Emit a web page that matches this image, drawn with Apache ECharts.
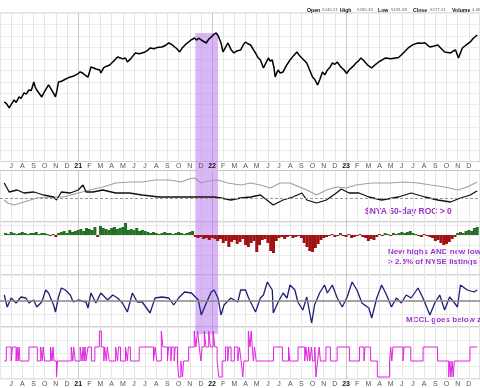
<!DOCTYPE html>
<html><head><meta charset="utf-8">
<script src="https://cdn.jsdelivr.net/npm/echarts@6/dist/echarts.min.js"></script>
<style>html,body{margin:0;padding:0;background:#fff}#c{width:480px;height:388px}</style>
</head><body><div id="c"></div>
<script>
// x unit: months since 1 Jul 2020
const monthLetters = ['J','F','M','A','M','J','J','A','S','O','N','D'];
const firstYear = 21;

const priceT = [-0.62,-0.4,-0.18,0,0.26,0.45,0.71,0.9,1.15,1.35,1.59,1.8,2.03,2.15,2.29,2.5,2.74,2.95,3.15,3.35,3.55,3.75,3.97,4.1,4.24,4.5,4.8,5.05,5.3,5.55,5.8,6.0,6.18,6.4,6.6,6.88,7.15,7.4,7.6,7.94,8.03,8.3,8.55,8.83,9.1,9.3,9.53,9.8,10.0,10.24,10.41,10.7,11.12,11.5,12.0,12.2,12.44,12.8,13.1,13.5,13.8,14.12,14.4,14.65,14.85,15.09,15.3,15.6,15.89,16.1,16.42,16.6,16.8,17.03,17.2,17.48,17.7,17.9,18.1,18.36,18.55,18.8,18.98,19.2,19.42,19.7,19.95,20.2,20.56,20.8,21.0,21.2,21.45,21.7,21.89,22.1,22.33,22.6,22.8,23.04,23.2,23.39,23.55,23.65,23.8,23.92,24.1,24.36,24.6,24.98,25.3,25.6,25.8,26.04,26.2,26.48,26.7,27.0,27.2,27.45,27.65,27.89,28.1,28.33,28.55,28.77,29.0,29.21,29.5,29.83,30.05,30.27,30.6,30.89,31.1,31.33,31.55,31.77,32.0,32.3,32.6,32.92,33.2,33.54,34.0,34.42,34.7,34.95,35.3,35.57,36.0,36.45,36.8,37.07,37.3,37.51,37.9,38.22,38.5,38.83,39.1,39.36,39.6,39.81,40.07,40.25,40.42,40.8,41.13,41.4,41.75];
const priceV = [3310,3270,3179,3250,3353,3300,3419,3390,3506,3480,3571,3560,3746,3640,3571,3500,3419,3520,3600,3680,3600,3520,3419,3560,3746,3760,3800,3830,3855,3870,3900,3930,3964,3940,3900,3850,4073,4050,4030,4007,3942,4060,4090,4116,4180,4230,4291,4270,4250,4269,4182,4250,4378,4360,4400,4430,4487,4470,4500,4509,4540,4596,4560,4509,4470,4400,4480,4560,4618,4660,4705,4660,4700,4661,4620,4596,4680,4720,4770,4814,4750,4596,4400,4500,4596,4450,4378,4420,4443,4560,4618,4580,4552,4450,4378,4280,4225,4051,4150,4269,4200,4225,4050,3855,3950,4007,3940,3964,4080,4225,4320,4400,4330,4269,4240,4160,4030,3855,3800,3680,3800,3964,3900,4007,4060,4160,4130,4182,4080,4007,3930,4007,4080,4160,4200,4269,4220,4160,4100,4051,4120,4182,4220,4269,4250,4269,4280,4334,4420,4487,4560,4596,4590,4600,4550,4509,4530,4552,4480,4400,4390,4378,4420,4443,4269,4380,4487,4560,4618,4700,4770];

const rocT = [-0.62,-0.18,0.53,1.15,2.03,2.91,3.8,4.06,4.5,5.3,6.0,6.44,6.71,7.33,8.21,9.36,10.59,11.74,13.24,14.65,15.89,17.03,18.18,18.8,19.68,20.56,21.45,22.33,23.48,24.36,25.24,26.04,26.48,27.36,28.24,29.13,29.57,30.27,31.16,32.04,33.19,34.69,35.83,37.07,38.22,39.36,40.25,41.13,41.57,41.75];
const rocBlack = [15,6,8,5,6,3,1,-2,6,5,8,13,6,6,8,5,5,3,1,1,1,1,1,0,-2,0,1,3,-7,-2,1,5,-2,-5,-2,5,9,5,5,1,-2,1,5,1,-2,-4,0,3,6,7];
const grayT = [-0.62,-0.3,0.26,1.15,2.29,3.8,4.68,6.0,7.06,8.21,9.36,10.59,11.74,12.89,14.12,15.27,15.89,16.42,17.03,17.65,18.53,19.42,20.56,21.45,22.33,23.21,24.1,24.98,26.48,27.36,28.24,29.13,30.01,30.89,32.3,33.8,35.3,36.45,37.6,38.83,39.98,40.86,41.75];
const grayV = [-2,-5,-7,-4,0,1,1,5,8,11,15,16,16,18,18,16,19,20,15,17,18,15,13,15,13,10,15,15,8,3,8,11,10,13,15,15,16,15,13,11,8,11,16];

const hlStart = -0.5, hlStep = 0.25;
const hlV = [2,1,3,2,1,2,3,2,1,2,2,3,1,2,2,1, -1,1,-2,2, 3,4,2,5,3,4, 5,6,4,7,6,5,8,-2,9, 7,6,5,7,8,6, 7,8,12,5, 6,5,7,4,5,4, 3,2,3,2,1,2,3,2,2,1,2,3,2,1,2,3,4, -2,-3,-2,-4,-3,-5,-3,-4,-6, -4,-8,-6,-12,-7, -5,-9,-7,-4, -10,-12,-8,-6, -17,-10,-5,-4, -8,-16,-18,-6, -3,-2,-4,-2,-1,-3,-2,-1,-3, -8,-12,-16,-17,-13,-9,-5, -3,-2,-1,1,-2,-1,2,-1,-2,1,-3,-2,-1,1,-2,-3, -6,-4,-5,-2, 1,-1,2,1,-1,2,1,2,3,2,3,4,2,1,-1,-2,1,-1,-2,-3, -6,-5,-8,-10,-9,-7,-4,-2, 2,3,2,4,5,4,7,8];

const mcclT = [-0.62,-0.35,0,0.44,0.88,1.32,1.59,2.03,2.29,2.74,3.09,3.35,3.8,3.97,4.24,4.5,4.85,5.3,5.56,6.0,6.7,6.88,7.15,7.59,8.03,8.65,9.09,9.53,9.97,10.41,10.86,11.3,11.74,12.44,12.89,13.5,14.12,14.56,15.0,15.53,16.15,16.77,17.03,17.48,17.92,18.18,18.53,18.8,19.07,19.68,20.3,20.56,21.0,21.27,21.89,22.33,22.6,22.95,23.39,23.48,23.92,24.36,24.71,24.98,25.42,25.68,26.13,26.48,26.92,27.18,27.63,28.07,28.33,28.77,29.21,29.66,30.1,30.54,30.98,31.42,32.04,32.3,32.75,33.19,33.63,34.07,34.51,34.95,35.39,35.83,36.45,36.89,37.51,37.95,38.39,38.83,39.28,39.72,39.98,40.25,40.86,41.48,41.75];
const mcclV = [6,-6,3,-2,4,3,-2,1,-6,-1,11,8,-4,-11,4,13,11,6,-1,1,-1,-7,8,-2,8,1,6,3,-2,-11,8,-1,-1,-12,3,4,3,-4,3,9,8,1,-14,-2,9,11,3,-14,-4,3,-1,11,11,3,-11,3,6,19,11,-12,-1,8,3,16,11,-1,-9,4,-22,-4,8,16,8,16,3,-6,4,19,11,-2,-7,-17,3,16,6,-6,3,-2,6,3,13,3,-14,-2,6,-9,4,-2,-6,16,11,9,11];

const magT = [-0.62,-0.44,0.0,0.13,0.44,0.53,0.62,0.71,0.79,1.59,2.34,2.65,2.78,2.87,3.0,3.53,3.66,3.75,3.84,4.06,4.15,5.38,5.52,5.6,5.74,6.18,6.35,6.44,6.53,6.62,6.71,6.88,7.19,7.5,7.9,8.08,8.3,8.38,8.52,8.61,8.78,9.36,9.53,9.62,9.8,10.24,10.41,10.5,10.68,11.47,12.75,12.9,13.05,13.45,13.6,14.0,14.1,14.3,14.4,14.6,14.7,14.9,15.0,15.2,15.35,15.45,15.9,16.4,16.55,16.7,16.85,17.0,17.1,17.3,17.45,17.7,17.85,18.1,18.25,18.45,18.6,18.9,19.2,19.4,19.5,19.7,20.0,20.3,20.45,20.6,20.75,20.85,21.25,21.4,21.5,21.6,21.7,21.8,21.95,23.5,24.3,24.85,24.95,25.7,26.3,26.4,26.55,26.65,26.75,26.9,27.0,27.2,27.3,27.45,27.6,27.7,28.2,28.6,29.2,30.3,31.2,31.6,31.7,32.2,32.8,33.9,34.0,34.1,34.2,35.1,35.2,35.8,36.9,38.2,39.2,39.3,39.4,39.5,39.6,39.7,41.1,41.75];
const magV = [18,32,18,32,18,32,18,32,18,32, 18,32,18,32,18,32,18,32,18,2, 18,32,18,32,18,32,18,32,18,32, 18,32,18,32,48,32,18,32,18,32, 18,32,18,32,18,32,18,32,18,32, 18,32,18,48,32,18,32,18,32,18, 32,18,2,18,2,18,32,48,32,48, 32,18,32,48,32,48,32,48,32,18, 2,18,32,18,32,18,32,18,32,18, 2,18,48,32,48,32,18,32,18,32, 18,32,18,32,18,32,18,32,18,32, 18,32,2,18,32,18,32,18,32,18, 32,18,32,18,2,18,32,18,32,18, 32,18,32,18,2,18,2,18,2,18, 32,32];

const bandFrom = 16.5, bandTo = 18.53;

function zip(t, v){ const n = Math.min(t.length, v.length); const out=[]; for(let i=0;i<n;i++) out.push([t[i], v[i]]); return out; }
const hlData = hlV.map((v,i)=>[hlStart + i*hlStep, v]);

const vCols = ['#e6e6e6','#e6e6e6','#e6e6e6','#e6e6e6','#e6e6e6','#e6e6e6','#e6e6e6','#c8c8c8','#e6e6e6','#e6e6e6','#e6e6e6','#e6e6e6'];
const grids = [
  {top:13, height:149},
  {top:162, height:60},
  {top:222, height:53},
  {top:275, height:52},
  {top:327, height:52}
];
const labelFmt = function(v){
  const idx = ((v + 6) % 12 + 12) % 12;
  if (idx === 0) return '{y|' + (firstYear + Math.floor((v - 6) / 12)) + '}';
  return monthLetters[idx];
};
const labelStyle = (inside, margin) => ({show:true, inside:inside, margin:margin, fontSize:7, color:'#555', fontFamily:'Arial',
    showMinLabel:false, showMaxLabel:false, formatter:labelFmt,
    rich:{y:{fontSize:7, fontWeight:'bold', color:'#111', fontFamily:'Arial'}}});
const xAxes = grids.map((g,i)=>({
  type:'value', gridIndex:i, min:-1, max:42, interval:1,
  position:'bottom',
  axisLine:{show:false}, axisTick:{show:false},
  splitLine:{show:true, lineStyle:{color:vCols, width:1}},
  axisLabel: i===4 ? labelStyle(false, 2) : {show:false}
}));
// label-only axis for the upper date strip
xAxes.push({type:'value', gridIndex:1, min:-1, max:42, interval:1, position:'top', z:20,
  axisLine:{show:false}, axisTick:{show:false}, splitLine:{show:false}, axisLabel:labelStyle(true, 1)});

const yDefs = [
  {min:2000, max:5250, interval:250, split:true},
  {min:-24, max:36, interval:12, split:false},
  {min:-40, max:13, interval:10, split:true},
  {min:-26, max:26, interval:13, split:true},
  {min:0, max:52, interval:13, split:true}
];
const yAxes = yDefs.map((d,i)=>({
  type:'value', gridIndex:i, min:d.min, max:d.max, interval:d.interval, position:'right',
  axisLine:{show:false}, axisTick:{show:false}, axisLabel:{show:false},
  splitLine:{show:d.split, lineStyle:{color:'#ececec', width:1}}
}));
const bandStyle = {color:'rgba(180,110,235,0.5)', borderWidth:0};
function band(yFrom, yTo){
  const a = {xAxis:bandFrom}, b = {xAxis:bandTo};
  if (yFrom !== undefined){ a.yAxis = yFrom; b.yAxis = yTo; }
  return {silent:true, itemStyle:bandStyle, data:[[a,b]]};
}
const purple = '#9a32cd';
const hdrB = {fontFamily:'Arial', fontWeight:'bold', fontSize:5.2, fill:'#111'};
const hdrV = {fontFamily:'Arial', fontSize:4.4, fill:'#666'};
function hdr(x, txt, st){ return {type:'text', left:x, top:8, style:Object.assign({text:txt}, st)}; }
const option = {
  animation:false,
  backgroundColor:'#ffffff',
  grid: grids.map(g=>({left:-4.33, width:487.2, top:g.top, height:g.height, show:true, borderColor:'#c4c4c4', borderWidth:1, backgroundColor:'transparent'})),
  xAxis:xAxes, yAxis:yAxes,
  series:[
    {type:'line', xAxisIndex:0, yAxisIndex:0, data:zip(priceT, priceV), symbol:'none',
     lineStyle:{color:'#000', width:1.5}, markArea: band(4814, 2000), z:3},
    {type:'line', xAxisIndex:1, yAxisIndex:1, data:zip(grayT, grayV), symbol:'none',
     lineStyle:{color:'#a0a0a0', width:1.2}, z:3},
    {type:'line', xAxisIndex:1, yAxisIndex:1, data:zip(rocT, rocBlack), symbol:'none',
     lineStyle:{color:'#111', width:1.3}, z:3,
     markArea:{silent:true, data:[
       [{xAxis:-1, yAxis:28, itemStyle:{color:'#ffffff', borderWidth:0}}, {xAxis:42, yAxis:36}],
       [{xAxis:bandFrom, itemStyle:bandStyle}, {xAxis:bandTo}]
     ]},
     markLine:{silent:true, symbol:'none', label:{show:false}, data:[
       {yAxis:28, lineStyle:{color:'#c4c4c4', type:'solid', width:1}},
       {yAxis:0, lineStyle:{color:'#999', type:[3,2], width:1}}]}},
    {type:'bar', xAxisIndex:2, yAxisIndex:2, data:hlData, barWidth:3,
     itemStyle:{color:(p)=> p.value[1] >= 0 ? '#226e22' : '#a01212'}, markArea: band(), z:3},
    {type:'line', xAxisIndex:3, yAxisIndex:3, data:zip(mcclT, mcclV), symbol:'none',
     lineStyle:{color:'#1e1e78', width:1.3}, z:3, markArea: band(),
     markLine:{silent:true, symbol:'none', label:{show:false}, data:[{yAxis:0, lineStyle:{color:'#8a8a8a', type:'solid', width:1.5}}]}},
    {type:'line', xAxisIndex:4, yAxisIndex:4, data:zip(magT, magV), symbol:'none', step:'end',
     lineStyle:{color:'#e022e0', width:1}, z:3, markArea: band(45, 52)}
  ],
  graphic:[
    hdr(307,'Open',hdrB), hdr(322,'5240.21',hdrV),
    hdr(340,'High',hdrB), hdr(357,'5280.33',hdrV),
    hdr(378,'Low',hdrB), hdr(391,'5191.68',hdrV),
    hdr(413,'Close',hdrB), hdr(430,'5277.51',hdrV),
    hdr(452,'Volume',hdrB), hdr(472,'4.0B',hdrV),
    {type:'text', left:365, top:207, style:{text:'$NYA 50-day ROC > 0', font:'bold 8.5px Arial', fill:purple}},
    {type:'text', left:388, top:248, style:{text:'New highs AND new lows', font:'bold 8px Arial', fill:purple}},
    {type:'text', left:388, top:258, style:{text:'> 2.5% of NYSE listings', font:'bold 8px Arial', fill:purple}},
    {type:'text', left:406, top:316, style:{text:'MCCL goes below zero', font:'bold 8px Arial', fill:purple}}
  ]
};
const chart = echarts.init(document.getElementById('c'), null, {renderer:'canvas', width:480, height:388});
chart.setOption(option);
</script>
</body></html>
